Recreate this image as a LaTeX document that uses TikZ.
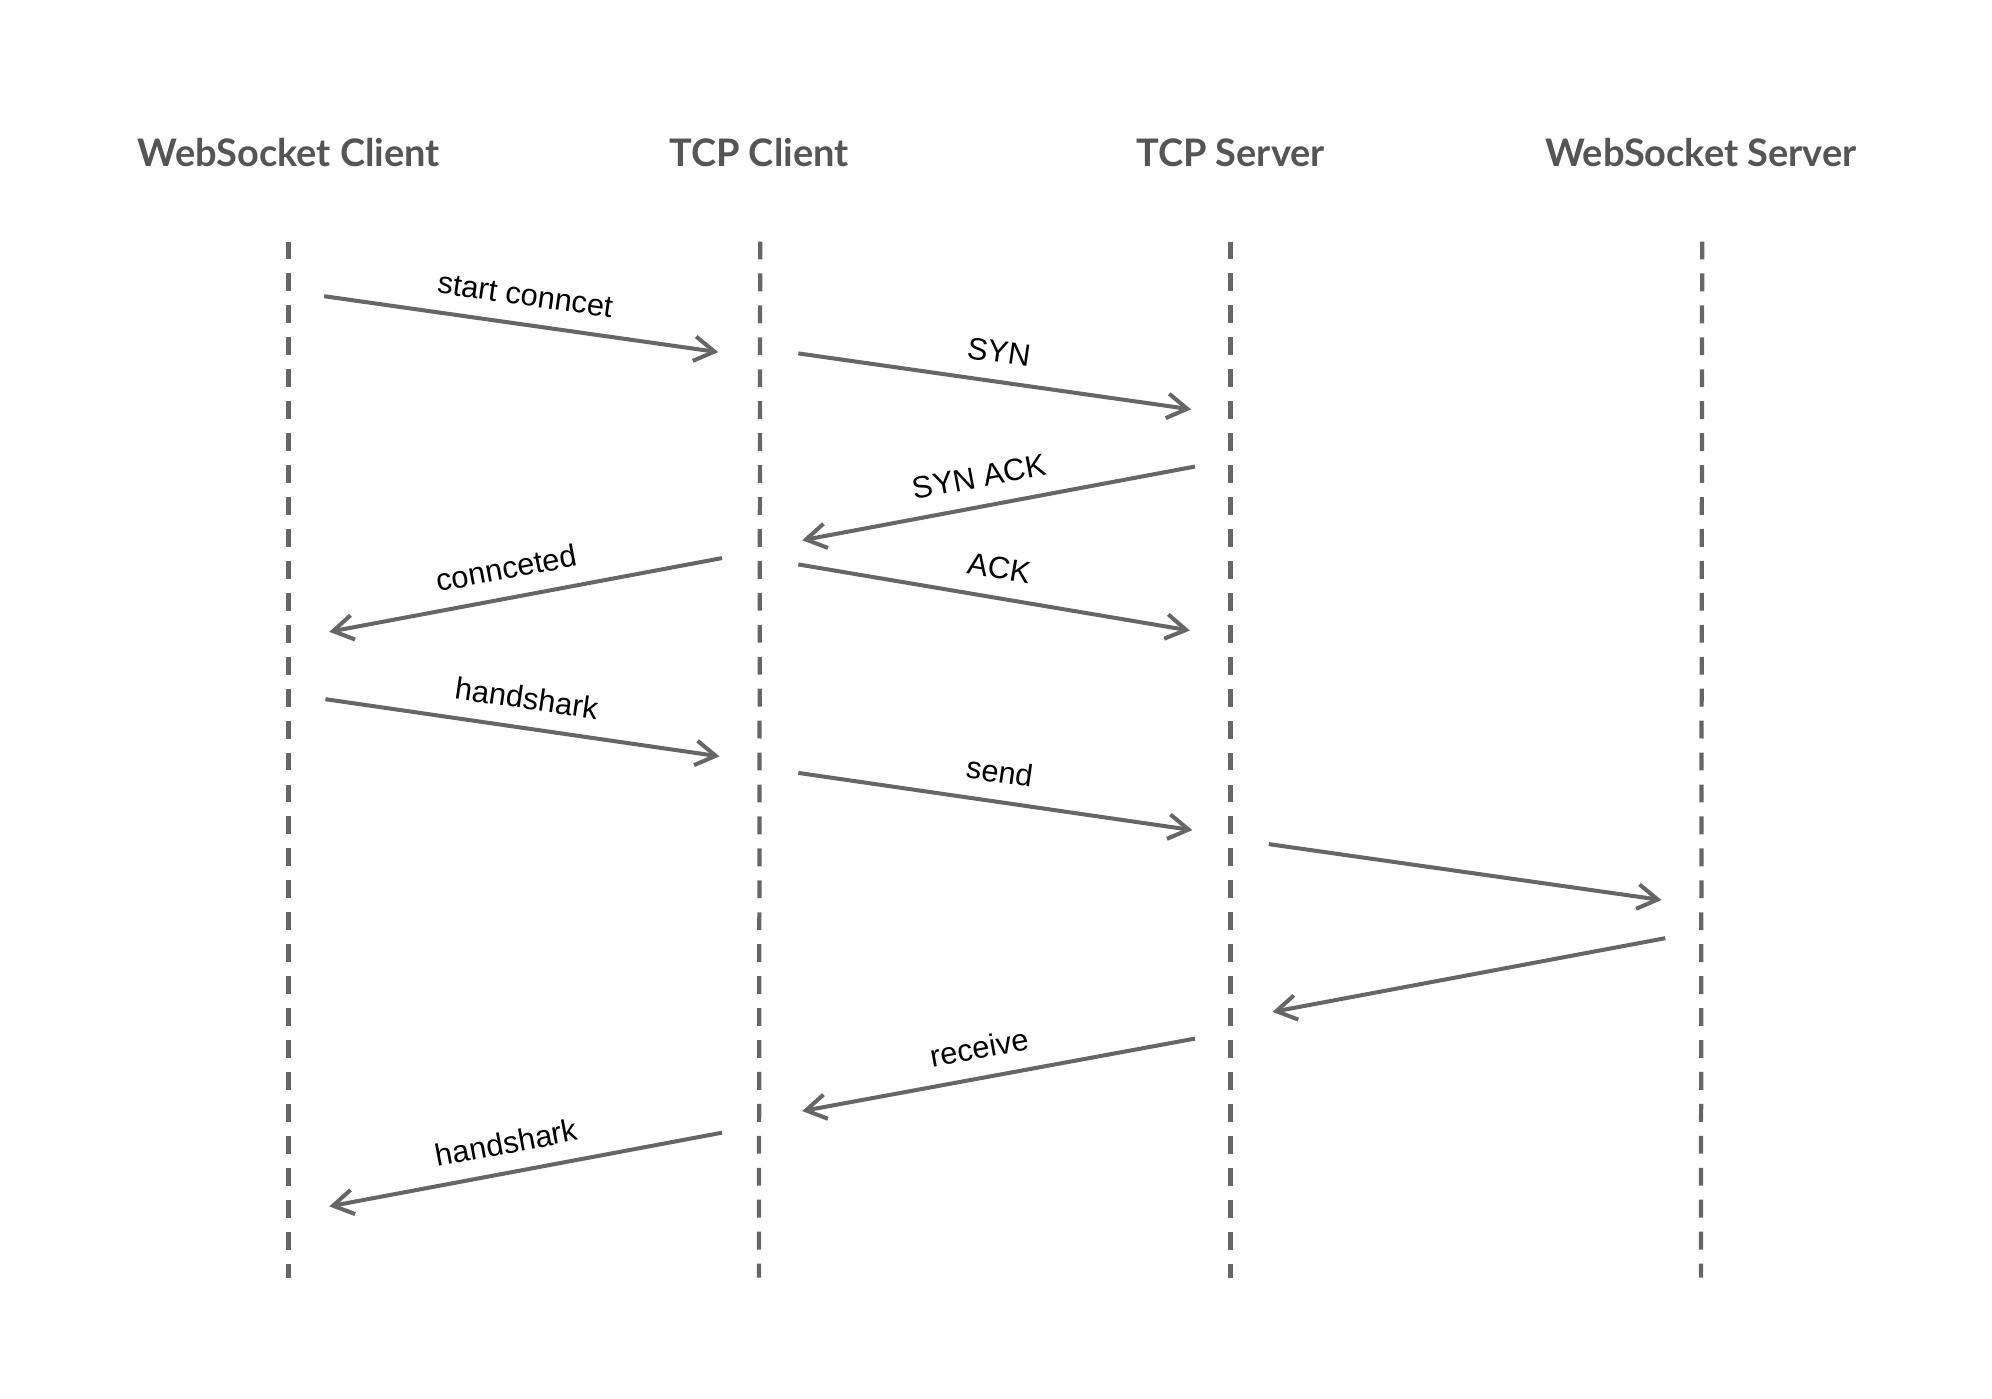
\documentclass[tikz,border=0pt]{standalone}
\usepackage{fontspec}
\setmainfont{Liberation Sans}
\newfontfamily\headfont{Lato}
\usetikzlibrary{arrows.meta}
\definecolor{linegray}{HTML}{666666}
\definecolor{headgray}{HTML}{555555}
\begin{document}
\begin{tikzpicture}[x=0.02cm,y=-0.02cm,
  lifeline/.style={draw=linegray, line width=1.9pt, dash pattern=on 8pt off 6.3pt},
  msg/.style={draw=linegray, line width=1.8pt, -{Straight Barb[length=9pt,width=11pt,line width=1.8pt]}},
  lbl/.style={sloped, above=7.5pt, inner sep=0pt, font=\fontsize{13.8}{16}\selectfont, text=black},
  head/.style={font=\headfont\bfseries\fontsize{17}{20}\selectfont, text=headgray}]
\useasboundingbox (0,0) rectangle (1567,1100);
% headings
\node[head] (hwc) at (227,120) {WebSocket Client};
\node[head] (htc) at (597,120) {TCP Client};
\node[head] (hts) at (968,120) {TCP Server};
\node[head] (hws) at (1338,120) {WebSocket Server};
% lifelines
\coordinate (wct) at (227,190); \coordinate (wcb) at (227,1005);
\coordinate (tct) at (598,190); \coordinate (tcb) at (597,1005);
\coordinate (tst) at (968,190); \coordinate (tsb) at (968,1005);
\coordinate (wst) at (1339,190); \coordinate (wsb) at (1338,1005);
\draw[lifeline] (wct) -- (wcb);
\draw[lifeline] (tct) -- (tcb);
\draw[lifeline] (tst) -- (tsb);
\draw[lifeline] (wst) -- (wsb);
% message endpoints
\coordinate (a1) at (255,233); \coordinate (b1) at (565,277);
\coordinate (a2) at (628,278); \coordinate (b2) at (937,322);
\coordinate (a3) at (940,367); \coordinate (b3) at (631,425);
\coordinate (a4) at (568,439); \coordinate (b4) at (259,497);
\coordinate (a5) at (628,444); \coordinate (b5) at (936,496);
\coordinate (a6) at (256,550); \coordinate (b6) at (566,595);
\coordinate (a7) at (628,608); \coordinate (b7) at (938,653);
\coordinate (a8) at (998,664); \coordinate (b8) at (1307,708);
\coordinate (a9) at (1310,738); \coordinate (b9) at (1001,796);
\coordinate (a10) at (940,817); \coordinate (b10) at (631,874);
\coordinate (a11) at (568,891); \coordinate (b11) at (259,949);
% messages
\draw[msg] (a1) -- node[lbl, pos=0.5] {start conncet} (b1);
\draw[msg] (a2) -- node[lbl, pos=0.5] {SYN} (b2);
\draw[msg] (a3) -- node[lbl, pos=0.535] {SYN ACK} (b3);
\draw[msg] (a4) -- node[lbl, pos=0.535] {connceted} (b4);
\draw[msg] (a5) -- node[lbl, pos=0.5] {ACK} (b5);
\draw[msg] (a6) -- node[lbl, pos=0.5] {handshark} (b6);
\draw[msg] (a7) -- node[lbl, pos=0.5] {send} (b7);
\draw[msg] (a8) -- (b8);
\draw[msg] (a9) -- (b9);
\draw[msg] (a10) -- node[lbl, pos=0.535] {receive} (b10);
\draw[msg] (a11) -- node[lbl, pos=0.535] {handshark} (b11);
\end{tikzpicture}
\end{document}
